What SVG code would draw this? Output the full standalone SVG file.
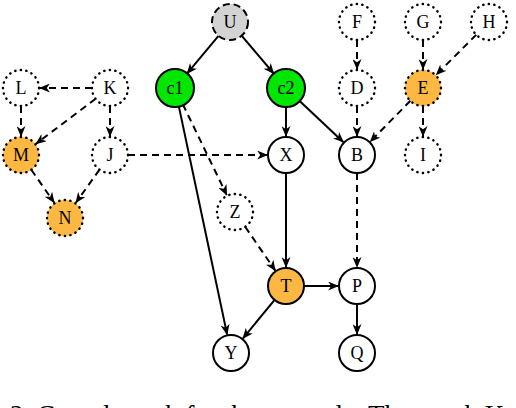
<svg xmlns="http://www.w3.org/2000/svg" width="516" height="408" viewBox="0 0 516 408">
<style>
  .n circle{stroke:#000;stroke-width:2;fill:#fff}
  .dot circle{stroke-dasharray:0.3,5.3;stroke-linecap:round;stroke-width:2.4}
  .dash circle{stroke-dasharray:7,4}
  .grn circle{fill:#00e600}
  .org circle{fill:#fdb843}
  .gry circle{fill:#d3d3d3}
  .n text{font-family:"Liberation Serif","Times New Roman",serif;font-size:18px;text-anchor:middle;dominant-baseline:central;fill:#000}
  #edges line{stroke:#000;stroke-width:2;fill:none;marker-end:url(#ah)}
  #edges line.d{stroke-dasharray:7,5}
  .cap{font-family:"Liberation Serif","Times New Roman",serif;font-size:27px;fill:#000}
</style>
<defs>
  <marker id="ah" markerUnits="userSpaceOnUse" viewBox="0 0 12 10" refX="11" refY="5" markerWidth="11" markerHeight="9" orient="auto">
    <path d="M0,0 L12,5 L0,10 L3.5,5 z" fill="#000"/>
  </marker>
</defs>
<g id="edges">
  <line x1="218.5" y1="35.8" x2="187.2" y2="73.4"/>
  <line x1="241.6" y1="35.7" x2="273.7" y2="73.5"/>
  <line x1="178.9" y1="106.6" x2="227.1" y2="334.4"/>
  <line class="d" x1="182.8" y1="104.2" x2="226.7" y2="194.9"/>
  <line x1="286" y1="106" x2="286" y2="136"/>
  <line x1="299.1" y1="100.4" x2="343.2" y2="142"/>
  <line x1="286" y1="173" x2="286" y2="267"/>
  <line class="d" x1="245.2" y1="226.8" x2="275.2" y2="270.4"/>
  <line x1="304" y1="286" x2="338" y2="286"/>
  <line x1="274.6" y1="299.9" x2="243" y2="338.3"/>
  <line x1="357" y1="304" x2="357" y2="334"/>
  <line class="d" x1="357" y1="173" x2="357" y2="267"/>
  <line class="d" x1="357" y1="40" x2="357" y2="69"/>
  <line class="d" x1="357" y1="106" x2="357" y2="136"/>
  <line class="d" x1="423" y1="40" x2="423" y2="69"/>
  <line class="d" x1="476.3" y1="34.7" x2="436.4" y2="74.6"/>
  <line class="d" x1="410.4" y1="100.8" x2="370.3" y2="141.5"/>
  <line class="d" x1="423" y1="106" x2="423" y2="136"/>
  <line class="d" x1="92" y1="88" x2="40" y2="88"/>
  <line class="d" x1="95.6" y1="98.8" x2="36.2" y2="143.6"/>
  <line class="d" x1="110" y1="106" x2="110" y2="136"/>
  <line class="d" x1="21" y1="106" x2="21" y2="136"/>
  <line class="d" x1="31.3" y1="169.8" x2="54.1" y2="202.4"/>
  <line class="d" x1="99.5" y1="169.7" x2="76" y2="202.5"/>
  <line class="d" x1="128" y1="155" x2="267" y2="155"/>
</g>
<g id="U" class="n dash gry"><circle cx="230" cy="22" r="18"/><text x="230" y="22">U</text></g>
<g id="c1" class="n grn"><circle cx="175" cy="88" r="19"/><text x="175" y="88">c1</text></g>
<g id="c2" class="n grn"><circle cx="286" cy="88" r="19"/><text x="286" y="88">c2</text></g>
<g id="L" class="n dot"><circle cx="21" cy="88" r="18"/><text x="21" y="88">L</text></g>
<g id="K" class="n dot"><circle cx="110" cy="88" r="18"/><text x="110" y="88">K</text></g>
<g id="M" class="n dot org"><circle cx="21" cy="155" r="18"/><text x="21" y="155">M</text></g>
<g id="J" class="n dot"><circle cx="110" cy="155" r="18"/><text x="110" y="155">J</text></g>
<g id="N" class="n dot org"><circle cx="65" cy="218" r="18"/><text x="65" y="218">N</text></g>
<g id="X" class="n"><circle cx="286" cy="155" r="18"/><text x="286" y="155">X</text></g>
<g id="B" class="n"><circle cx="357" cy="155" r="18"/><text x="357" y="155">B</text></g>
<g id="I" class="n dot"><circle cx="423" cy="155" r="18"/><text x="423" y="155">I</text></g>
<g id="F" class="n dot"><circle cx="357" cy="22" r="18"/><text x="357" y="22">F</text></g>
<g id="G" class="n dot"><circle cx="423" cy="22" r="18"/><text x="423" y="22">G</text></g>
<g id="H" class="n dot"><circle cx="489" cy="22" r="18"/><text x="489" y="22">H</text></g>
<g id="D" class="n dot"><circle cx="357" cy="88" r="18"/><text x="357" y="88">D</text></g>
<g id="E" class="n dot org"><circle cx="423" cy="88" r="18"/><text x="423" y="88">E</text></g>
<g id="Z" class="n dot"><circle cx="235" cy="212" r="18"/><text x="235" y="212">Z</text></g>
<g id="T" class="n org"><circle cx="286" cy="286" r="18"/><text x="286" y="286">T</text></g>
<g id="P" class="n"><circle cx="357" cy="286" r="18"/><text x="357" y="286">P</text></g>
<g id="Y" class="n"><circle cx="231" cy="353" r="18"/><text x="231" y="353">Y</text></g>
<g id="Q" class="n"><circle cx="357" cy="353" r="18"/><text x="357" y="353">Q</text></g>
<text class="cap" x="10" y="424">2. Causal graph for the example. The graph K</text>
</svg>
